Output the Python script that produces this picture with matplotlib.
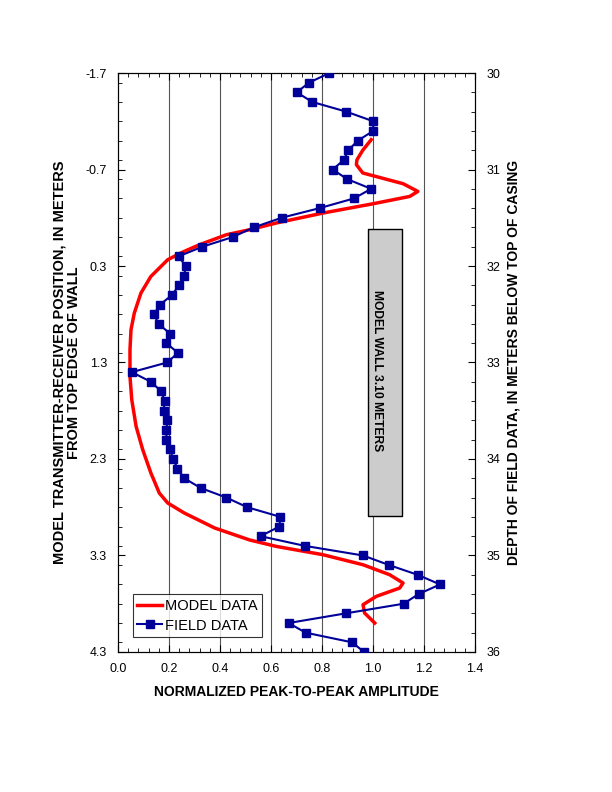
import matplotlib
matplotlib.use('Agg')
import matplotlib.pyplot as plt
from matplotlib.ticker import MultipleLocator
from matplotlib.lines import Line2D

plt.rcParams['font.family'] = ['Liberation Sans', 'DejaVu Sans']

# ── Data ──────────────────────────────────────────────────────────────────────
# model curve: transmitter-receiver position (m from top edge of wall) vs amplitude
model_pos = [-1.009, -0.90, -0.80, -0.75, -0.664, -0.553, -0.473, -0.421, -0.345,
             -0.249, -0.146, -0.076, -0.024, 0.079, 0.160, 0.235, 0.408, 0.580,
             0.787, 0.960, 1.167, 1.444, 1.686, 1.962, 2.204, 2.445, 2.653, 2.756,
             2.860, 3.015, 3.139, 3.206, 3.292, 3.396, 3.499, 3.585, 3.637, 3.724,
             3.810, 3.896, 4.0]
model_amp = [0.993, 0.960, 0.937, 0.935, 0.960, 1.118, 1.176, 1.144, 1.000,
             0.804, 0.621, 0.516, 0.425, 0.320, 0.250, 0.195, 0.129, 0.090,
             0.064, 0.051, 0.047, 0.047, 0.054, 0.071, 0.097, 0.129, 0.162, 0.195,
             0.260, 0.379, 0.516, 0.621, 0.804, 0.961, 1.065, 1.118, 1.105, 1.013,
             0.961, 0.967, 1.007]

# field data: depth below top of casing (m) vs amplitude
field_depth = [30.0, 30.1, 30.2, 30.3, 30.4, 30.5, 30.6, 30.7, 30.8, 30.9,
               31.0, 31.1, 31.2, 31.3, 31.4, 31.5, 31.6, 31.7, 31.8, 31.9,
               32.0, 32.1, 32.2, 32.3, 32.4, 32.5, 32.6, 32.7, 32.8, 32.9,
               33.0, 33.1, 33.2, 33.3, 33.4, 33.5, 33.6, 33.7, 33.8, 33.9,
               34.0, 34.1, 34.2, 34.3, 34.4, 34.5, 34.6, 34.7, 34.8, 34.9,
               35.0, 35.1, 35.2, 35.3, 35.4, 35.5, 35.6, 35.7, 35.8, 35.9,
               36.0]
field_amp = [0.829, 0.749, 0.701, 0.762, 0.895, 1.001, 1.001, 0.941, 0.903, 0.886,
             0.842, 0.899, 0.993, 0.925, 0.791, 0.642, 0.532, 0.450, 0.331, 0.238,
             0.265, 0.260, 0.239, 0.212, 0.165, 0.141, 0.159, 0.204, 0.190, 0.235,
             0.193, 0.054, 0.129, 0.170, 0.183, 0.179, 0.193, 0.190, 0.190, 0.203,
             0.217, 0.233, 0.260, 0.324, 0.425, 0.507, 0.637, 0.633, 0.559, 0.732,
             0.961, 1.064, 1.175, 1.263, 1.179, 1.120, 0.893, 0.669, 0.736, 0.918,
             0.965]

# model wall extent (amplitude x-range, position y-range)
wall_x = [0.981, 1.114]
wall_y = [-0.083, 2.895]

x_ticks = [0.0, 0.2, 0.4, 0.6, 0.8, 1.0, 1.2, 1.4]
left_ticks = [-1.7, -0.7, 0.3, 1.3, 2.3, 3.3, 4.3]
right_ticks = [30, 31, 32, 33, 34, 35, 36]

RED = '#ff0000'
BLUE = '#000099'

# ── Figure ────────────────────────────────────────────────────────────────────
fig = plt.figure(figsize=(6.12, 7.92), dpi=100)
ax = fig.add_axes([0.1928, 0.1768, 0.5833, 0.7310])

ax.set_xlim(0, 1.4)
ax.set_ylim(4.3, -1.7)
for xv in x_ticks[1:-1]:
    ax.axvline(xv, color='#555555', lw=0.8, zorder=0)

ax.fill_between(wall_x, wall_y[0], wall_y[1], facecolor='#cccccc',
                edgecolor='black', lw=1.0, zorder=1)
ax.text(1.016, 0.545, 'MODEL WALL 3.10 METERS', rotation=-90,
        ha='center', va='top', fontsize=8.7, fontweight='bold', zorder=2)

ax.plot(model_amp, model_pos, color=RED, lw=2.5, zorder=3)

ax.set_xticks(x_ticks)
ax.set_xticklabels([f'{v:.1f}' for v in x_ticks])
ax.set_yticks(left_ticks)
ax.set_yticklabels([f'{v:.1f}' for v in left_ticks])
ax.xaxis.set_minor_locator(MultipleLocator(0.04))
ax.yaxis.set_minor_locator(MultipleLocator(0.2))
ax.tick_params(which='both', direction='in', top=True, labelsize=9, pad=8)
ax.tick_params(which='major', length=5)
ax.tick_params(which='minor', length=3)

ax.set_xlabel('NORMALIZED PEAK-TO-PEAK AMPLITUDE', fontsize=10,
              fontweight='bold', labelpad=7)
ax.set_ylabel('MODEL TRANSMITTER-RECEIVER POSITION, IN METERS\nFROM TOP EDGE OF WALL',
              fontsize=10.5, fontweight='bold', labelpad=3, linespacing=1.1)

ax2 = ax.twinx()
ax2.set_ylim(36, 30)
ax2.plot(field_amp, field_depth, color=BLUE, lw=1.5, marker='s', ms=6,
         zorder=4)
ax2.set_yticks(right_ticks)
ax2.yaxis.set_minor_locator(MultipleLocator(0.2))
ax2.tick_params(which='both', direction='in', labelsize=9, pad=8)
ax2.tick_params(which='major', length=5)
ax2.tick_params(which='minor', length=3)
ax2.set_ylabel('DEPTH OF FIELD DATA, IN METERS BELOW TOP OF CASING',
               fontsize=10, fontweight='bold', labelpad=5)

handles = [Line2D([], [], color=RED, lw=2.5),
           Line2D([], [], color=BLUE, lw=1.5, marker='s', ms=6)]
leg = ax2.legend(handles, ['MODEL DATA', 'FIELD DATA'], loc='lower left',
                 bbox_to_anchor=(0.042, 0.026), fontsize=10.5, frameon=True,
                 fancybox=False, edgecolor='black', handlelength=1.7,
                 handletextpad=0.2, borderpad=0.3, labelspacing=0.4,
                 borderaxespad=0)
leg.get_frame().set_linewidth(0.8)

fig.savefig('out.png', dpi=100)
